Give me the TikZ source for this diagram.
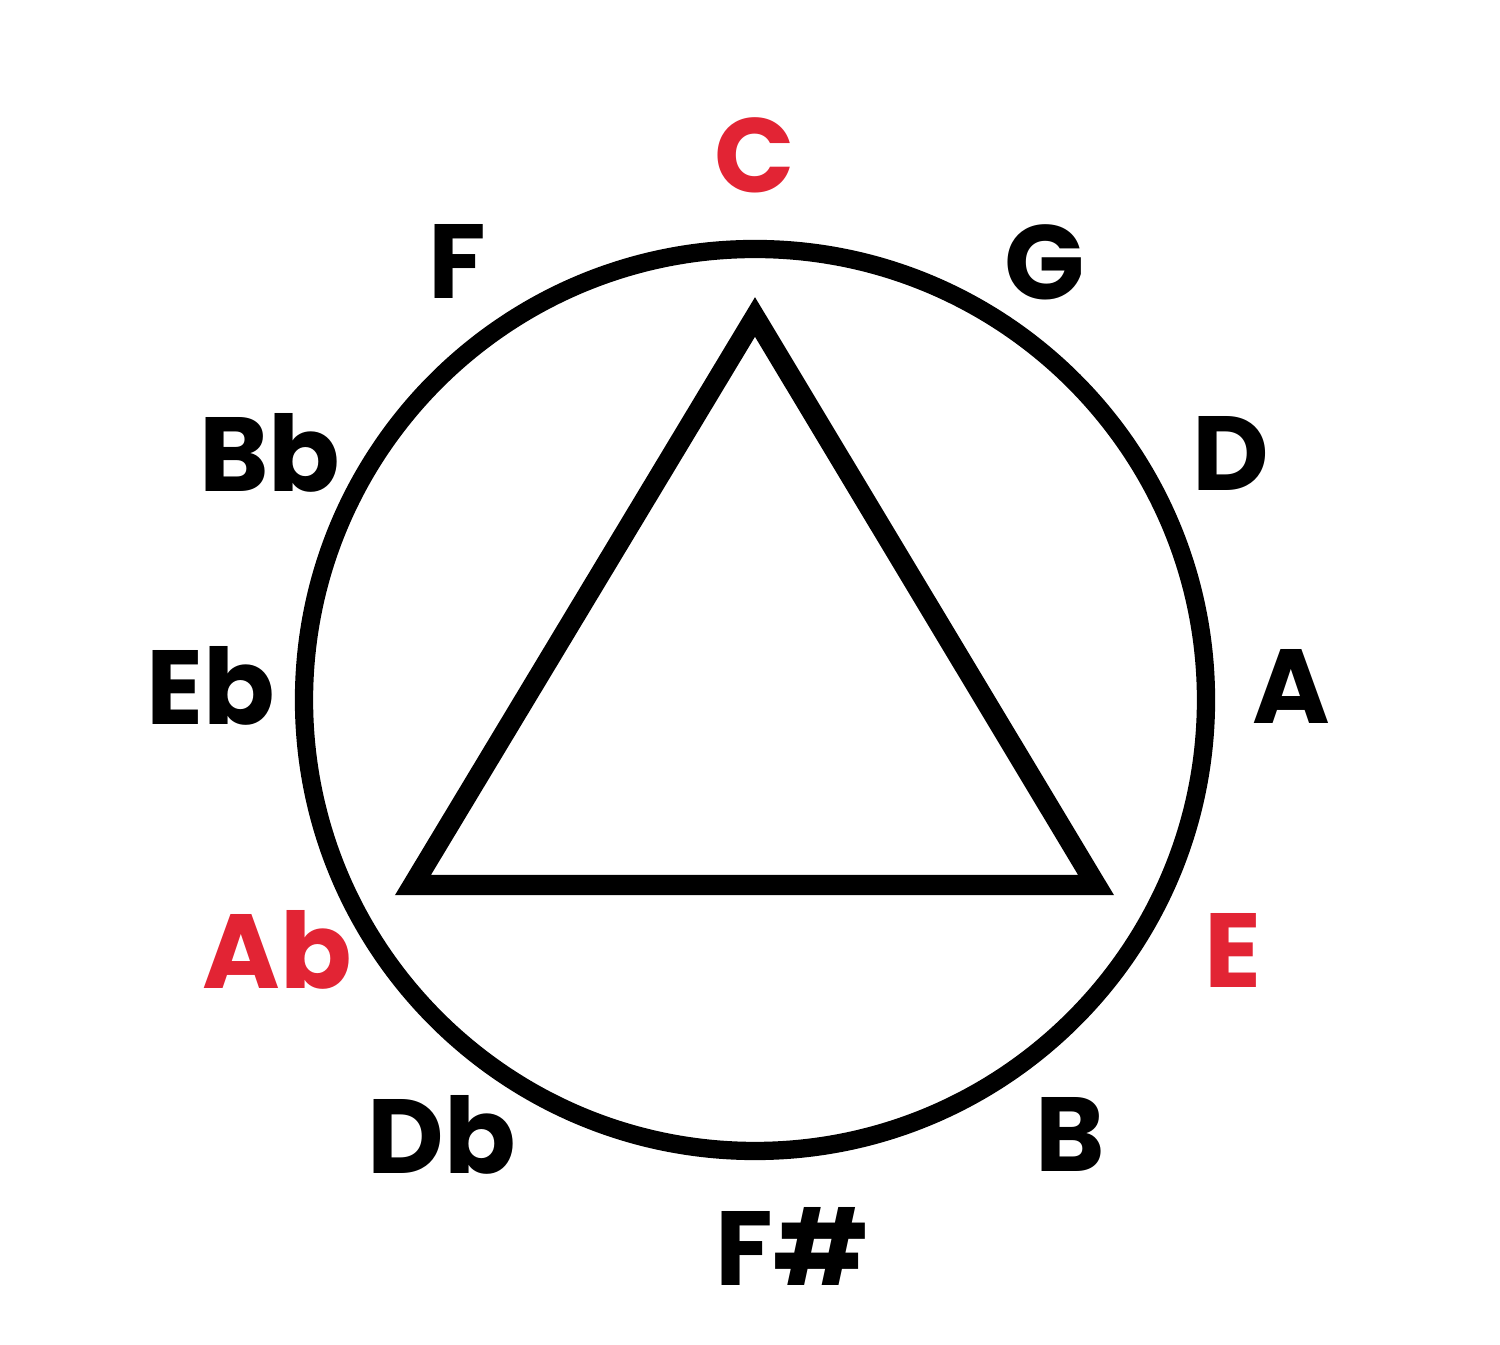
\documentclass[tikz,border=0pt]{standalone}
\usepackage{fontspec}
\setmainfont{Poppins}
\definecolor{notered}{RGB}{226,36,52}
\begin{document}
\begin{tikzpicture}[
  note/.style={font=\fontsize{30pt}{36pt}\selectfont\bfseries, inner sep=0pt},
  rootnote/.style={note, text=notered},
  ring/.style={line width=5.2pt},
  chord/.style={line width=5.8pt, line join=miter}
]
\useasboundingbox [fill=white] (0, 0) rectangle (15, 13.45);

\draw [ring] (7.55, 6.45) circle (4.51);

\coordinate (top) at (7.55, 10.28);
\coordinate (left) at (4.13, 4.60);
\coordinate (right) at (10.96, 4.60);
\draw [chord] (top) -- (right) -- (left) -- cycle;

\node (C) at (7.55, 11.90) [rootnote] {C};
\node (G) at (10.45, 10.83) [note] {G};
\node (D) at (12.31, 8.91) [note] {D};
\node (A) at (12.91, 6.58) [note] {A};
\node (E) at (12.33, 3.94) [rootnote] {E};
\node (B) at (10.70, 2.10) [note] {B};
\node (Fs) at (7.92, 0.99) [note] {F\#};
\node (Db) at (4.42, 2.10) [note] {Db};
\node (Ab) at (2.77, 3.95) [rootnote] {Ab};
\node (Eb) at (2.11, 6.59) [note] {Eb};
\node (Bb) at (2.70, 8.92) [note] {Bb};
\node (F) at (4.57, 10.83) [note] {F};
\end{tikzpicture}
\end{document}
